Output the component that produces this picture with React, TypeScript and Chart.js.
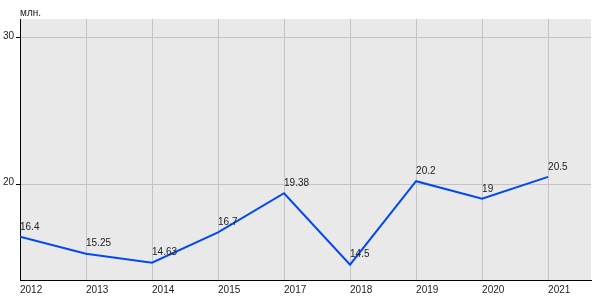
import React, { useEffect, useRef } from "react";
import { Chart, registerables } from "chart.js";

Chart.register(...registerables);

const categories = ["2012", "2013", "2014", "2015", "2017", "2018", "2019", "2020", "2021"];
const values = [16.4, 15.25, 14.63, 16.7, 19.38, 14.5, 20.2, 19, 20.5];
const valueLabels = ["16.4", "15.25", "14.63", "16.7", "19.38", "14.5", "20.2", "19", "20.5"];
const yTicks = [20, 30];
const unitTitle = "млн.";

const FONT = "Liberation Sans, Arial, sans-serif";

export default function App() {
  const ref = useRef<HTMLCanvasElement | null>(null);

  useEffect(() => {
    if (!ref.current) return;
    const bgPlugin = {
      id: "bg",
      beforeDraw(chart: any) {
        const { ctx, chartArea } = chart;
        ctx.save();
        ctx.fillStyle = "#e9e9e9";
        ctx.fillRect(chartArea.left, chartArea.top, chartArea.right - chartArea.left, chartArea.bottom - chartArea.top);
        ctx.restore();
      },
      afterDraw(chart: any) {
        const { ctx, chartArea } = chart;
        ctx.save();
        ctx.font = "10px " + FONT;
        ctx.fillStyle = "#222";
        ctx.textAlign = "left";
        ctx.textBaseline = "middle";
        ctx.fillText(unitTitle, chartArea.left, 13);
        const meta = chart.getDatasetMeta(0);
        meta.data.forEach((pt: any, i: number) => {
          ctx.fillText(valueLabels[i], pt.x, pt.y - 10);
        });
        ctx.restore();
      },
    };

    const chart = new Chart(ref.current, {
      type: "line",
      data: {
        datasets: [
          {
            data: values.map((v, i) => ({ x: i, y: v })),
            borderColor: "#0048f2",
            borderWidth: 2,
            pointRadius: 0,
            tension: 0,
            fill: false,
          },
        ],
      },
      options: {
        animation: false,
        responsive: false,
        maintainAspectRatio: false,
        layout: { padding: { top: 19, right: 9, left: 0, bottom: 0 } },
        plugins: { legend: { display: false }, tooltip: { enabled: false } },
        scales: {
          x: {
            type: "linear",
            min: 0,
            max: 8.65,
            afterBuildTicks(axis: any) {
              axis.ticks = categories.map((_, i) => ({ value: i }));
            },
            afterFit(axis: any) {
              axis.height = 20;
            },
            ticks: {
              align: "start",
              padding: 4,
              color: "#222",
              font: { family: FONT, size: 10 },
              callback: (v: any) => categories[Math.round(v)] ?? "",
              maxRotation: 0,
              autoSkip: false,
            },
            grid: { color: "#c4c4c4", drawTicks: false, lineWidth: 1 },
            border: { color: "#000", width: 1 },
          },
          y: {
            type: "linear",
            min: 13.45,
            max: 31.29,
            afterBuildTicks(axis: any) {
              axis.ticks = yTicks.map((v) => ({ value: v }));
            },
            afterFit(axis: any) {
              axis.width = 20;
            },
            ticks: {
              padding: 2,
              color: "#222",
              labelOffset: -2,
              font: { family: FONT, size: 10 },
            },
            grid: { color: "#c4c4c4", tickColor: "#000", tickLength: 4, lineWidth: 1 },
            border: { color: "#000", width: 1 },
          },
        },
      },
      plugins: [bgPlugin],
    });
    return () => chart.destroy();
  }, []);

  return (
    <div style={{ position: "fixed", left: 0, top: 0, width: 600, height: 300, background: "#fff" }}>
      <canvas ref={ref} width={600} height={300} style={{ width: 600, height: 300 }} />
    </div>
  );
}
